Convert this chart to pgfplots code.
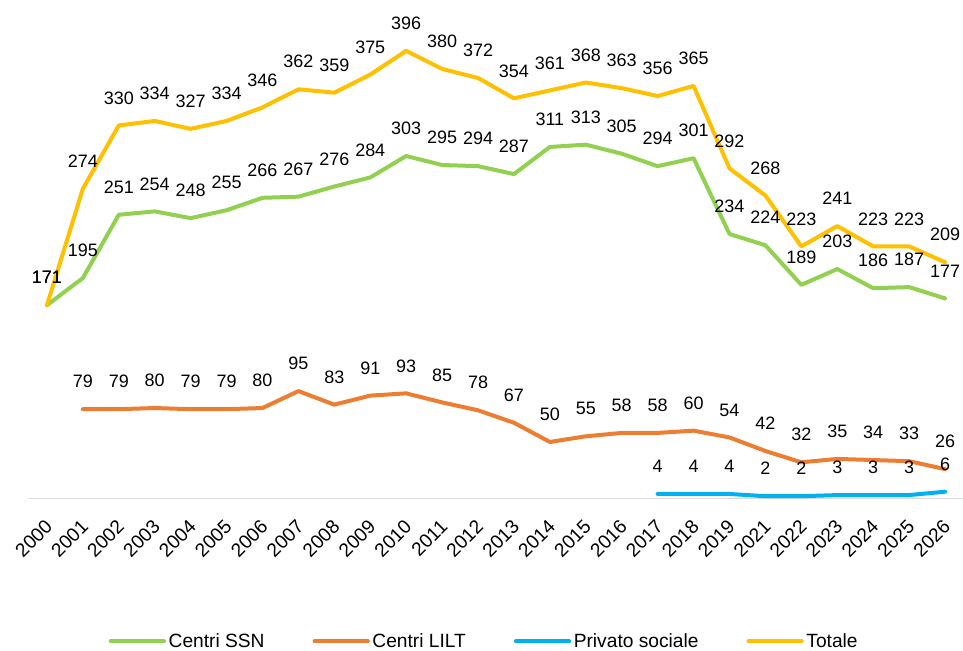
\documentclass[border=0pt]{standalone}
\usepackage{pgfplots}
\pgfplotsset{compat=1.18}
\usepackage{fontspec}
\setmainfont{Liberation Sans}

\definecolor{ssn}{HTML}{92D050}
\definecolor{lilt}{HTML}{ED7D31}
\definecolor{priv}{HTML}{00B0F0}
\definecolor{tot}{HTML}{FFC000}

\begin{document}
\begin{tikzpicture}
\begin{axis}[
    name=ax,
    scale only axis,
    width=701.25pt, height=374.25pt,
    xmin=-0.5, xmax=25.5,
    ymin=0, ymax=441,
    axis y line=none,
    axis x line*=bottom,
    x axis line style={draw=black!15, line width=1.1pt},
    xtick={0,...,25},
    xticklabels={2000,2001,2002,2003,2004,2005,2006,2007,2008,2009,2010,2011,2012,2013,2014,2015,2016,2017,2018,2019,2021,2022,2023,2024,2025,2026},
    major tick length=0pt,
    xticklabel style={xshift=1.5pt, yshift=-18.5pt, rotate=45, anchor=east, inner sep=0pt,
        font=\fontsize{14.4}{17}\selectfont},
    /pgf/number format/assume math mode=true,
    clip=false,
    nodes near coords,
    every node near coord/.append style={font=\fontsize{13.5}{16}\selectfont, text=black, inner sep=0pt, anchor=base, yshift=16pt},
    every axis plot/.append style={line width=3pt, line join=round, line cap=round, no markers},
    legend style={at={(0.4877,-0.2866)}, anchor=center, draw=none, font=\fontsize{14.4}{17}\selectfont,
        legend columns=4, /tikz/every even column/.append style={column sep=34pt}},
    legend image code/.code={\draw[#1, line width=3pt, line cap=round] (0pt,0pt) -- (40pt,0pt);},
]
\addplot[ssn] coordinates {
    (0,171) (1,195) (2,251) (3,254) (4,248) (5,255) (6,266) (7,267) (8,276) (9,284)
    (10,303) (11,295) (12,294) (13,287) (14,311) (15,313) (16,305) (17,294) (18,301) (19,234)
    (20,224) (21,189) (22,203) (23,186) (24,187) (25,177)
};
\addlegendentry{Centri SSN}
\addplot[lilt] coordinates {
    (1,79) (2,79) (3,80) (4,79) (5,79) (6,80) (7,95) (8,83) (9,91)
    (10,93) (11,85) (12,78) (13,67) (14,50) (15,55) (16,58) (17,58) (18,60) (19,54)
    (20,42) (21,32) (22,35) (23,34) (24,33) (25,26)
};
\addlegendentry{Centri LILT}
\addplot[priv] coordinates {
    (17,4) (18,4) (19,4) (20,2) (21,2) (22,3) (23,3) (24,3) (25,6)
};
\addlegendentry{Privato sociale}
\addplot[tot] coordinates {
    (0,171) (1,274) (2,330) (3,334) (4,327) (5,334) (6,346) (7,362) (8,359) (9,375)
    (10,396) (11,380) (12,372) (13,354) (14,361) (15,368) (16,363) (17,356) (18,365) (19,292)
    (20,268) (21,223) (22,241) (23,223) (24,223) (25,209)
};
\addlegendentry{Totale}
\end{axis}
\pgfresetboundingbox
\path ([xshift=-21.75pt]ax.north west) rectangle ([yshift=-114pt]ax.south east);
\end{tikzpicture}
\end{document}
